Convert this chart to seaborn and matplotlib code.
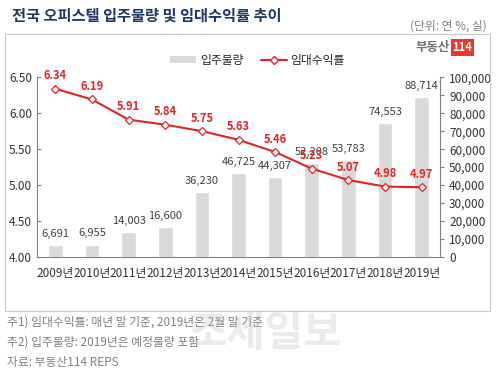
import numpy as np
import pandas as pd
import matplotlib
matplotlib.use("Agg")
import matplotlib.pyplot as plt
from matplotlib.patches import Rectangle, Patch
from matplotlib.lines import Line2D
import seaborn as sns

years = ['2009년', '2010년', '2011년', '2012년', '2013년', '2014년',
         '2015년', '2016년', '2017년', '2018년', '2019년']
supply = [6691, 6955, 14003, 16600, 36230, 46725, 44307, 52208, 53783, 74553, 88714]
yield_rate = [6.34, 6.19, 5.91, 5.84, 5.75, 5.63, 5.46, 5.23, 5.07, 4.98, 4.97]

sns.set_style("white")
plt.rcParams['font.family'] = ['Noto Sans CJK KR', 'DejaVu Sans']

df = pd.DataFrame({'year': years, 'supply': supply, 'rate': yield_rate})

fig = plt.figure(figsize=(5, 3.71), dpi=100)
ax_bar = fig.add_axes([0.074, 0.307, 0.806, 0.485])
ax_line = ax_bar.twinx()

# bars (right axis)
sns.barplot(data=df, x='year', y='supply', color='#d9d9d9', width=0.4,
            saturation=1, ax=ax_bar)
ax_bar.set_ylim(0, 100000)
ax_bar.set_yticks(np.arange(0, 100001, 10000))
ax_bar.set_yticklabels([f'{v:,}' for v in range(0, 100001, 10000)])
ax_bar.yaxis.tick_right()
ax_bar.yaxis.set_label_position('right')
for i, v in enumerate(supply):
    ax_bar.text(i, v + 3500, f'{v:,}', ha='center', va='bottom',
                fontsize=8, color='#404040')

# line (left axis)
sns.lineplot(data=df, x='year', y='rate', color='#e02424', linewidth=1.5,
             marker='D', markersize=4, markerfacecolor='white',
             markeredgecolor='#e02424', markeredgewidth=0.9, ax=ax_line)
ax_line.set_ylim(4.0, 6.5)
ax_line.set_yticks(np.arange(4.0, 6.51, 0.5))
ax_line.set_yticklabels([f'{v:.2f}' for v in np.arange(4.0, 6.51, 0.5)])
ax_line.yaxis.tick_left()
ax_line.yaxis.set_label_position('left')
for i, v in enumerate(yield_rate):
    ax_line.text(i, v + 0.09, f'{v:.2f}', ha='center', va='bottom',
                 fontsize=8, color='#e02424', fontweight='bold')

ax_bar.set_xlim(-0.5, 10.5)
for a in (ax_bar, ax_line):
    a.set_xlabel('')
    a.set_ylabel('')
    for s in a.spines.values():
        s.set_visible(False)

ax_bar.spines['bottom'].set_visible(True)
ax_bar.spines['right'].set_visible(True)
ax_line.spines['left'].set_visible(True)
for s in (ax_bar.spines['bottom'], ax_bar.spines['right'], ax_line.spines['left']):
    s.set_color('#808080')
    s.set_linewidth(0.8)

ax_bar.set_xticks(np.arange(-0.5, 10.6, 1), minor=True)
ax_bar.tick_params(axis='x', which='major', length=0, labelsize=8.5,
                   colors='#333333', pad=7)
ax_bar.tick_params(axis='x', which='minor', length=3, direction='in',
                   color='#808080')
ax_bar.tick_params(axis='y', length=3, color='#808080', labelsize=8.5,
                   labelcolor='#333333', direction='out')
ax_line.tick_params(axis='y', length=3, color='#808080', labelsize=8.5,
                    labelcolor='#333333', direction='in')

# legend
handles = [Patch(facecolor='#d9d9d9', edgecolor='none', label='입주물량'),
           Line2D([0], [0], color='#e02424', lw=1.5, marker='D', markersize=4,
                  markerfacecolor='white', markeredgecolor='#e02424',
                  label='임대수익률')]
fig.legend(handles=handles, loc='center', bbox_to_anchor=(0.515, 0.838),
           ncol=2, frameon=False, fontsize=8.5, handlelength=2.2,
           handleheight=0.6, columnspacing=1.5, handletextpad=0.3)

# frame
fig.patches.append(Rectangle((0.01, 0.162), 0.97, 0.746, transform=fig.transFigure,
                             fill=False, edgecolor='#c8c8c8', linewidth=0.8))

# titles and notes
fig.text(0.024, 0.957, '전국 오피스텔 입주물량 및 임대수익률 추이', fontsize=11,
         fontweight='bold', color='#1f3864', va='center')
fig.text(0.974, 0.93, '(단위: 연 %, 실)', fontsize=8.5, color='#808080',
         ha='right', va='center')
fig.text(0.9, 0.872, '부동산', fontsize=9, fontweight='bold', color='#707070',
         ha='right', va='center')
fig.text(0.905, 0.872, '114', fontsize=8, fontweight='bold', color='white',
         ha='left', va='center',
         bbox=dict(boxstyle='square,pad=0.15', facecolor='#e8392b', edgecolor='none'))

fig.text(0.014, 0.132, '주1) 임대수익률: 매년 말 기준, 2019년은 2월 말 기준',
         fontsize=8.5, color='#808080', va='center')
fig.text(0.014, 0.077, '주2) 입주물량: 2019년은 예정물량 포함',
         fontsize=8.5, color='#808080', va='center')
fig.text(0.014, 0.022, '자료: 부동산114 REPS',
         fontsize=8.5, color='#808080', va='center')
fig.text(0.53, 0.1, '조세일보', fontsize=30, fontweight='bold', color='#b0b0b0',
         alpha=0.25, ha='center', va='center')

fig.savefig('out.png', dpi=100)
